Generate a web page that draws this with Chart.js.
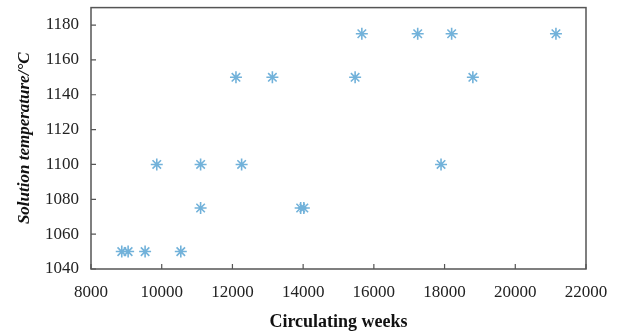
<!DOCTYPE html>
<html>
<head>
<meta charset="utf-8">
<script src="https://cdn.jsdelivr.net/npm/chart.js@4/dist/chart.umd.min.js"></script>
<style>
  html, body { margin: 0; padding: 0; background: #fff; }
  #wrap { width: 626px; height: 335px; }
</style>
</head>
<body>
<div id="wrap"><canvas id="scatterChart"></canvas></div>
<script>
// circulating weeks vs solution temperature
const weeks = [8870, 9050, 9530, 10540, 11100, 13930, 14020, 9860, 11100, 12260, 17900,
  12100, 13130, 15470, 18800, 15660, 17240, 18200, 21150];
const temps = [1050, 1050, 1050, 1050, 1075, 1075, 1075, 1100, 1100, 1100, 1100,
  1150, 1150, 1150, 1150, 1175, 1175, 1175, 1175];
const xTicks = [8000, 10000, 12000, 14000, 16000, 18000, 20000, 22000];
const yTicks = [1040, 1060, 1080, 1100, 1120, 1140, 1160, 1180];

const points = weeks.map((w, i) => ({ x: w, y: temps[i] }));
const serif = 'Liberation Serif';

// box frame and inward tick marks
const framePlugin = {
  id: 'frame',
  beforeDatasetsDraw(chart) {
    const { ctx, chartArea: a, scales } = chart;
    ctx.save();
    ctx.strokeStyle = '#555';
    ctx.lineWidth = 1.5;
    ctx.strokeRect(a.left, a.top, a.right - a.left, a.bottom - a.top);
    ctx.lineWidth = 1.2;
    ctx.beginPath();
    xTicks.forEach(v => {
      const px = scales.x.getPixelForValue(v);
      ctx.moveTo(px, a.bottom);
      ctx.lineTo(px, a.bottom - 5);
    });
    yTicks.forEach(v => {
      const py = scales.y.getPixelForValue(v);
      ctx.moveTo(a.left, py);
      ctx.lineTo(a.left + 5, py);
    });
    ctx.stroke();
    ctx.restore();
  }
};

new Chart(document.getElementById('scatterChart'), {
  type: 'scatter',
  data: {
    datasets: [{
      data: points,
      pointStyle: 'star',
      radius: 6,
      borderWidth: 1.6,
      borderColor: '#72b2da',
      backgroundColor: '#72b2da'
    }]
  },
  options: {
    responsive: true,
    maintainAspectRatio: false,
    animation: false,
    layout: { padding: { left: 10, right: 40, top: 7, bottom: 0 } },
    plugins: {
      legend: { display: false },
      tooltip: { enabled: false }
    },
    scales: {
      x: {
        type: 'linear',
        min: 8000,
        max: 22000,
        afterFit: s => { s.height = 66; s.paddingRight = 0; },
        afterBuildTicks: s => { s.ticks = xTicks.map(v => ({ value: v })); },
        grid: { display: false },
        border: { display: false },
        ticks: {
          padding: 5,
          color: '#222',
          font: { family: serif, size: 17 },
          callback: v => String(v)
        },
        title: {
          display: true,
          text: 'Circulating weeks',
          color: '#111',
          padding: { top: 4, bottom: 2 },
          font: { family: serif, size: 18, weight: 'bold' }
        }
      },
      y: {
        min: 1040,
        max: 1190,
        afterFit: s => { s.width = 81; s.paddingTop = 0; s.paddingBottom = 0; },
        afterBuildTicks: s => { s.ticks = yTicks.map(v => ({ value: v })); },
        grid: { display: false },
        border: { display: false },
        ticks: {
          padding: 4,
          color: '#222',
          font: { family: serif, size: 17 },
          callback: v => String(v)
        },
        title: {
          display: true,
          text: 'Solution temperature/°C',
          color: '#111',
          font: { family: serif, size: 17, weight: 'bold', style: 'italic' }
        }
      }
    }
  },
  plugins: [framePlugin]
});
</script>
</body>
</html>
